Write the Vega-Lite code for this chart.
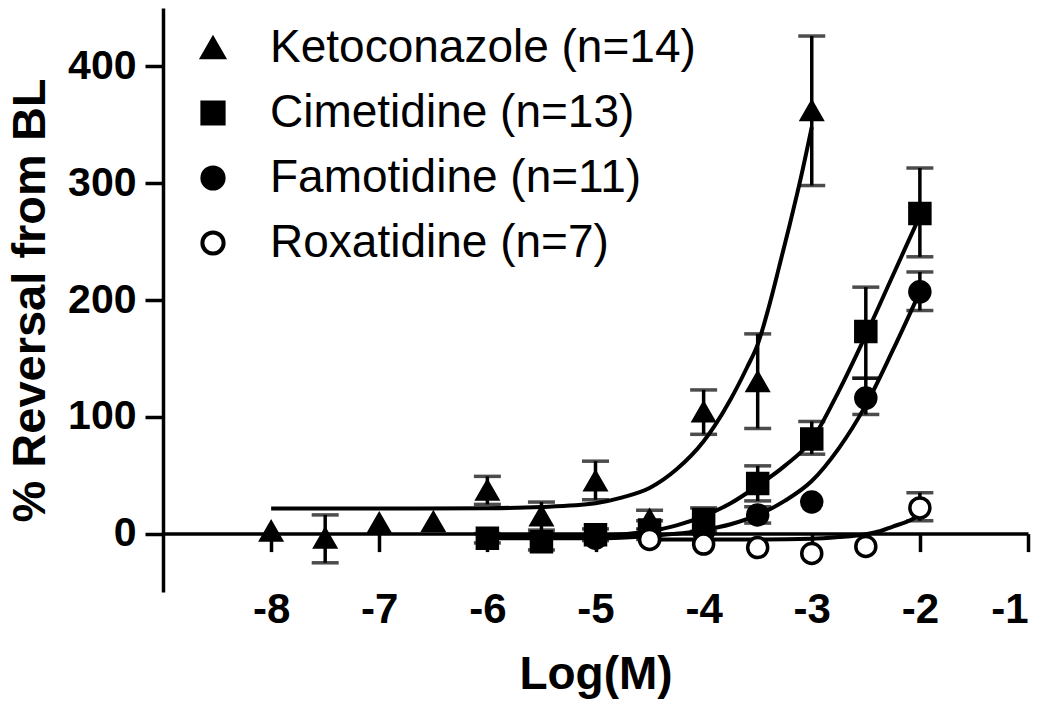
{
  "$schema": "https://vega.github.io/schema/vega-lite/v6.json",
  "autosize": "none",
  "width": 865,
  "height": 584,
  "padding": {"left": 163, "top": 8, "right": 22, "bottom": 118},
  "background": "white",
  "config": {
    "view": {"stroke": null},
    "font": "Liberation Sans",
    "axis": {
      "grid": false,
      "domainColor": "black",
      "domainWidth": 3.5,
      "tickColor": "black",
      "tickWidth": 3.5,
      "tickSize": 18,
      "labelFont": "Liberation Sans",
      "labelFontWeight": "bold",
      "labelColor": "black",
      "titleFont": "Liberation Sans",
      "titleFontWeight": "bold",
      "titleColor": "black"
    },
    "legend": {
      "orient": "none",
      "legendX": 27,
      "legendY": 17,
      "labelFont": "Liberation Sans",
      "labelFontSize": 46,
      "labelColor": "black",
      "symbolSize": 450,
      "symbolStrokeWidth": 4,
      "rowPadding": 19,
      "labelOffset": 34,
      "padding": 0,
      "labelLimit": 700
    }
  },
  "datasets": {
    "pts": [
      {"drug": "Ketoconazole (n=14)", "x": -8, "y": 2},
      {"drug": "Ketoconazole (n=14)", "x": -7.5, "y": -4, "lo": -25, "hi": 16},
      {"drug": "Ketoconazole (n=14)", "x": -7, "y": 9},
      {"drug": "Ketoconazole (n=14)", "x": -6.5, "y": 10},
      {"drug": "Ketoconazole (n=14)", "x": -6, "y": 37, "lo": 25, "hi": 49},
      {"drug": "Ketoconazole (n=14)", "x": -5.5, "y": 15, "lo": 3, "hi": 27},
      {"drug": "Ketoconazole (n=14)", "x": -5, "y": 45, "lo": 29, "hi": 62},
      {"drug": "Ketoconazole (n=14)", "x": -4.5, "y": 12, "lo": 4, "hi": 20},
      {"drug": "Ketoconazole (n=14)", "x": -4, "y": 104, "lo": 85, "hi": 123},
      {"drug": "Ketoconazole (n=14)", "x": -3.5, "y": 130, "lo": 90, "hi": 171},
      {"drug": "Ketoconazole (n=14)", "x": -3, "y": 362, "lo": 298, "hi": 426},
      {"drug": "Cimetidine (n=13)", "x": -6, "y": -4, "lo": -8, "hi": 0},
      {"drug": "Cimetidine (n=13)", "x": -5.5, "y": -7, "lo": -14, "hi": 0},
      {"drug": "Cimetidine (n=13)", "x": -5, "y": -1, "lo": -6, "hi": 4},
      {"drug": "Cimetidine (n=13)", "x": -4.5, "y": 3, "lo": -5, "hi": 11},
      {"drug": "Cimetidine (n=13)", "x": -4, "y": 12, "lo": 2, "hi": 22},
      {"drug": "Cimetidine (n=13)", "x": -3.5, "y": 43, "lo": 28, "hi": 58},
      {"drug": "Cimetidine (n=13)", "x": -3, "y": 81, "lo": 68, "hi": 96},
      {"drug": "Cimetidine (n=13)", "x": -2.5, "y": 173, "lo": 133, "hi": 211},
      {"drug": "Cimetidine (n=13)", "x": -2, "y": 274, "lo": 237, "hi": 313},
      {"drug": "Famotidine (n=11)", "x": -5, "y": -4},
      {"drug": "Famotidine (n=11)", "x": -4.5, "y": -4},
      {"drug": "Famotidine (n=11)", "x": -4, "y": 2},
      {"drug": "Famotidine (n=11)", "x": -3.5, "y": 16, "lo": 9, "hi": 23},
      {"drug": "Famotidine (n=11)", "x": -3, "y": 27},
      {"drug": "Famotidine (n=11)", "x": -2.5, "y": 116, "lo": 102, "hi": 133},
      {"drug": "Famotidine (n=11)", "x": -2, "y": 207, "lo": 191, "hi": 224},
      {"drug": "Roxatidine (n=7)", "x": -4.5, "y": -5},
      {"drug": "Roxatidine (n=7)", "x": -4, "y": -9},
      {"drug": "Roxatidine (n=7)", "x": -3.5, "y": -12},
      {"drug": "Roxatidine (n=7)", "x": -3, "y": -17},
      {"drug": "Roxatidine (n=7)", "x": -2.5, "y": -11},
      {"drug": "Roxatidine (n=7)", "x": -2, "y": 22, "lo": 11, "hi": 35}
    ],
    "fit": [
      {"drug": "Ketoconazole (n=14)", "x": -8, "f": 21.5},
      {"drug": "Ketoconazole (n=14)", "x": -7, "f": 21.5},
      {"drug": "Ketoconazole (n=14)", "x": -6, "f": 21.8},
      {"drug": "Ketoconazole (n=14)", "x": -5.5, "f": 22.8},
      {"drug": "Ketoconazole (n=14)", "x": -5, "f": 26},
      {"drug": "Ketoconazole (n=14)", "x": -4.75, "f": 31},
      {"drug": "Ketoconazole (n=14)", "x": -4.5, "f": 39},
      {"drug": "Ketoconazole (n=14)", "x": -4.25, "f": 55},
      {"drug": "Ketoconazole (n=14)", "x": -4, "f": 79},
      {"drug": "Ketoconazole (n=14)", "x": -3.9, "f": 92},
      {"drug": "Ketoconazole (n=14)", "x": -3.75, "f": 115},
      {"drug": "Ketoconazole (n=14)", "x": -3.6, "f": 142},
      {"drug": "Ketoconazole (n=14)", "x": -3.5, "f": 162},
      {"drug": "Ketoconazole (n=14)", "x": -3.4, "f": 193},
      {"drug": "Ketoconazole (n=14)", "x": -3.3, "f": 229},
      {"drug": "Ketoconazole (n=14)", "x": -3.2, "f": 266},
      {"drug": "Ketoconazole (n=14)", "x": -3.1, "f": 305},
      {"drug": "Ketoconazole (n=14)", "x": -3, "f": 348},
      {"drug": "Cimetidine (n=13)", "x": -6, "f": -3},
      {"drug": "Cimetidine (n=13)", "x": -5.5, "f": -3},
      {"drug": "Cimetidine (n=13)", "x": -5, "f": -2},
      {"drug": "Cimetidine (n=13)", "x": -4.5, "f": 2},
      {"drug": "Cimetidine (n=13)", "x": -4.25, "f": 7},
      {"drug": "Cimetidine (n=13)", "x": -4, "f": 15},
      {"drug": "Cimetidine (n=13)", "x": -3.75, "f": 26},
      {"drug": "Cimetidine (n=13)", "x": -3.5, "f": 41},
      {"drug": "Cimetidine (n=13)", "x": -3.25, "f": 58},
      {"drug": "Cimetidine (n=13)", "x": -3, "f": 80},
      {"drug": "Cimetidine (n=13)", "x": -2.75, "f": 122},
      {"drug": "Cimetidine (n=13)", "x": -2.5, "f": 170},
      {"drug": "Cimetidine (n=13)", "x": -2.25, "f": 221},
      {"drug": "Cimetidine (n=13)", "x": -2, "f": 272},
      {"drug": "Famotidine (n=11)", "x": -6, "f": -4},
      {"drug": "Famotidine (n=11)", "x": -5, "f": -4},
      {"drug": "Famotidine (n=11)", "x": -4.5, "f": -2},
      {"drug": "Famotidine (n=11)", "x": -4, "f": 3},
      {"drug": "Famotidine (n=11)", "x": -3.75, "f": 8},
      {"drug": "Famotidine (n=11)", "x": -3.5, "f": 16},
      {"drug": "Famotidine (n=11)", "x": -3.25, "f": 28},
      {"drug": "Famotidine (n=11)", "x": -3, "f": 45},
      {"drug": "Famotidine (n=11)", "x": -2.75, "f": 73},
      {"drug": "Famotidine (n=11)", "x": -2.5, "f": 110},
      {"drug": "Famotidine (n=11)", "x": -2.25, "f": 157},
      {"drug": "Famotidine (n=11)", "x": -2, "f": 207},
      {"drug": "Roxatidine (n=7)", "x": -4.5, "f": -5},
      {"drug": "Roxatidine (n=7)", "x": -3.5, "f": -5},
      {"drug": "Roxatidine (n=7)", "x": -3, "f": -4.5},
      {"drug": "Roxatidine (n=7)", "x": -2.75, "f": -3},
      {"drug": "Roxatidine (n=7)", "x": -2.5, "f": -0.5},
      {"drug": "Roxatidine (n=7)", "x": -2.37, "f": 2},
      {"drug": "Roxatidine (n=7)", "x": -2.25, "f": 6},
      {"drug": "Roxatidine (n=7)", "x": -2.1, "f": 11},
      {"drug": "Roxatidine (n=7)", "x": -2, "f": 16}
    ]
  },
  "encoding": {
    "x": {
      "field": "x",
      "type": "quantitative",
      "scale": {"domain": [-9, -1], "nice": false, "zero": false},
      "axis": {
        "title": "Log(M)",
        "values": [-8, -7, -6, -5, -4, -3, -2, -1],
        "labelExpr": "'' + datum.value",
        "offset": -58.4,
        "labelFontSize": 42,
        "labelPadding": 38,
        "titleFontSize": 46,
        "titlePadding": 22
      }
    }
  },
  "layer": [
    {
      "data": {"name": "fit"},
      "mark": {"type": "line", "interpolate": "monotone", "color": "black", "strokeWidth": 4},
      "encoding": {
        "y": {
          "field": "f",
          "type": "quantitative",
          "scale": {"domain": [-50, 450], "nice": false, "zero": false},
          "axis": {
            "title": "% Reversal from BL",
            "values": [0, 100, 200, 300, 400],
            "labelFontSize": 41,
            "labelPadding": 9,
            "titleFontSize": 47,
            "titlePadding": 13
          }
        },
        "detail": {"field": "drug"}
      }
    },
    {
      "data": {"name": "pts"},
      "transform": [{"filter": "isValid(datum.lo)"}],
      "mark": {"type": "rule", "color": "black", "strokeWidth": 3.5},
      "encoding": {
        "y": {"field": "lo", "type": "quantitative"},
        "y2": {"field": "hi"}
      }
    },
    {
      "data": {"name": "pts"},
      "transform": [{"filter": "isValid(datum.lo)"}],
      "mark": {"type": "tick", "orient": "horizontal", "color": "black", "size": 27, "thickness": 3.5},
      "encoding": {"y": {"field": "lo", "type": "quantitative"}}
    },
    {
      "data": {"name": "pts"},
      "transform": [{"filter": "isValid(datum.hi)"}],
      "mark": {"type": "tick", "orient": "horizontal", "color": "black", "size": 27, "thickness": 3.5},
      "encoding": {"y": {"field": "hi", "type": "quantitative"}}
    },
    {
      "data": {"name": "pts"},
      "mark": {"type": "point", "filled": true, "strokeWidth": 3.5, "opacity": 1, "size": 400},
      "encoding": {
        "y": {"field": "y", "type": "quantitative"},
        "shape": {
          "field": "drug",
          "type": "nominal",
          "scale": {
            "domain": ["Ketoconazole (n=14)", "Cimetidine (n=13)", "Famotidine (n=11)", "Roxatidine (n=7)"],
            "range": ["triangle-up", "square", "circle", "circle"]
          },
          "legend": {"title": null}
        },
        "fill": {
          "field": "drug",
          "type": "nominal",
          "scale": {
            "domain": ["Ketoconazole (n=14)", "Cimetidine (n=13)", "Famotidine (n=11)", "Roxatidine (n=7)"],
            "range": ["black", "black", "black", "white"]
          },
          "legend": {"title": null}
        },
        "stroke": {
          "field": "drug",
          "type": "nominal",
          "scale": {
            "domain": ["Ketoconazole (n=14)", "Cimetidine (n=13)", "Famotidine (n=11)", "Roxatidine (n=7)"],
            "range": ["black", "black", "black", "black"]
          },
          "legend": {"title": null}
        }
      }
    }
  ]
}
